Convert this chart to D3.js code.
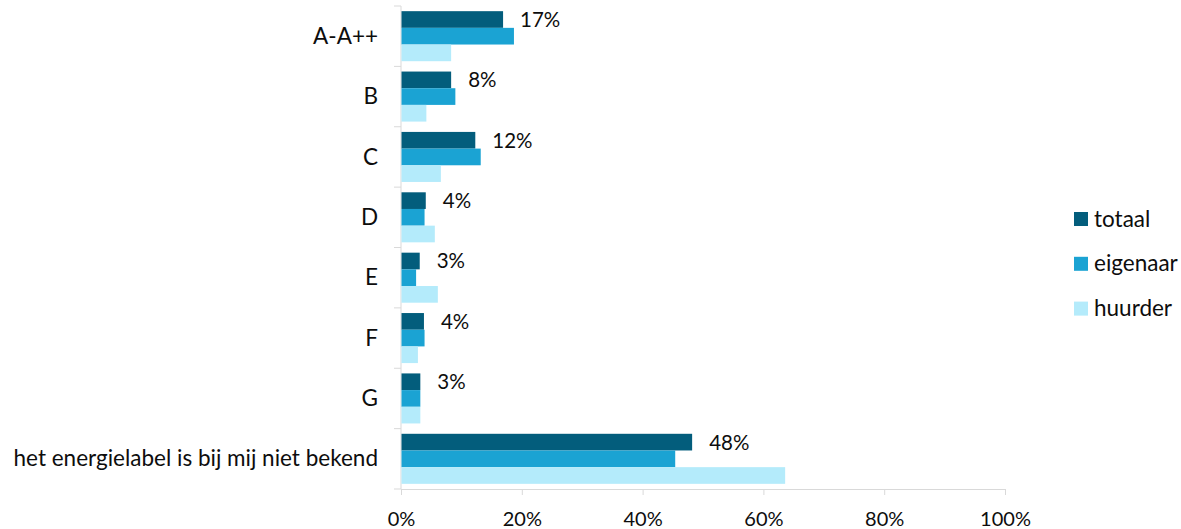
<!DOCTYPE html>
<html>
<head>
<meta charset="utf-8">
<script src="https://cdn.jsdelivr.net/npm/d3@7"></script>
<style>
  body { margin: 0; background: #fff; }
  svg text { font-family: Lato, "Open Sans", sans-serif; fill: #0d0d0d; }
</style>
</head>
<body>
<script>
'use strict';

// categories (energielabel) and series
const categories = ["A-A++", "B", "C", "D", "E", "F", "G", "het energielabel is bij mij niet bekend"];
const series = ["totaal", "eigenaar", "huurder"];

// values in percent
const totaal   = [16.9, 8.3, 12.3, 4.1, 3.1, 3.8, 3.2, 48.2];
const eigenaar = [18.7, 9.0, 13.2, 3.9, 2.5, 3.9, 3.2, 45.4];
const huurder  = [8.3, 4.2, 6.6, 5.6, 6.1, 2.8, 3.2, 63.6];

// rounded labels shown next to the totaal bars
const totaalLabels = ["17%", "8%", "12%", "4%", "3%", "4%", "3%", "48%"];

const xTicks = [0, 20, 40, 60, 80, 100];

const colors = {
  "totaal": "#035d7c",
  "eigenaar": "#1ba3d3",
  "huurder": "#b4ebfb"
};

let svg = d3.select('body')
  .append('svg')
  .attr('width', 1181)
  .attr('height', 529);

let values = { totaal: totaal, eigenaar: eigenaar, huurder: huurder };

// rows for the bars
let rows = categories.map((c, i) => ({
  cat: c,
  vals: series.map((s) => ({ key: s, value: values[s][i] })),
  label: totaalLabels[i]
}));

// scales
let x = d3.scaleLinear()
  .domain([0, 100])
  .range([401, 1005]);

let y = d3.scaleBand()
  .domain(categories)
  .range([6, 489]);

let ySub = d3.scaleBand()
  .domain(series)
  .range([0, y.bandwidth()])
  .paddingOuter(0.31);

// x axis
let xAxis = d3.axisBottom(x)
  .tickValues(xTicks)
  .tickFormat((d) => d + "%")
  .tickSize(6)
  .tickSizeOuter(0);

let gx = svg.append('g')
  .attr('transform', 'translate(0, 489)')
  .call(xAxis);
gx.select('.domain').attr('stroke', '#d9d9d9');
gx.selectAll('.tick line').attr('stroke', '#d9d9d9');
gx.selectAll('.tick text')
  .attr('y', 37)
  .attr('dy', 0)
  .style('font-size', '20px')
  .attr('fill', '#0d0d0d');

// y axis line with ticks at the category boundaries
svg.append('line')
  .attr('x1', x(0)).attr('x2', x(0))
  .attr('y1', y.range()[0]).attr('y2', y.range()[1])
  .attr('stroke', '#d9d9d9');

svg.selectAll('.ytick')
  .data(categories.concat(["end"]))
  .enter()
  .append('line')
    .attr('x1', x(0) - 7).attr('x2', x(0))
    .attr('y1', (d, i) => i < categories.length ? y(d) : y.range()[1])
    .attr('y2', (d, i) => i < categories.length ? y(d) : y.range()[1])
    .attr('stroke', '#d9d9d9');

// category labels
svg.selectAll('.catlabel')
  .data(categories)
  .enter()
  .append('text')
    .attr('x', 378)
    .attr('y', (d) => y(d) + y.bandwidth() / 2)
    .attr('dy', '0.34em')
    .attr('text-anchor', 'end')
    .style('font-size', '22.5px')
    .text((d) => d);

// bars
let groups = svg.selectAll('.grp')
  .data(rows)
  .enter()
  .append('g')
    .attr('transform', (d) => 'translate(0,' + y(d.cat) + ')');

groups.selectAll('rect')
  .data((d) => d.vals)
  .enter()
  .append('rect')
    .attr('x', x(0) + 0.5)
    .attr('y', (d) => ySub(d.key))
    .attr('width', (d) => x(d.value) - x(0) - 0.5)
    .attr('height', ySub.bandwidth())
    .attr('fill', (d) => colors[d.key]);

// data labels for totaal
groups.append('text')
  .attr('x', (d) => x(d.vals[0].value) + 17)
  .attr('y', ySub("totaal") + ySub.bandwidth() / 2)
  .attr('dy', '0.36em')
  .style('font-size', '20.5px')
  .text((d) => d.label);

// legend
let legend = svg.selectAll('.legend')
  .data(series)
  .enter()
  .append('g')
    .attr('transform', (d, i) => 'translate(1074,' + (219 + i * 44.8) + ')');

legend.append('rect')
  .attr('x', 0)
  .attr('y', -7)
  .attr('width', 14)
  .attr('height', 14)
  .attr('fill', (d) => colors[d]);

legend.append('text')
  .attr('x', 20)
  .attr('y', 0)
  .attr('dy', '0.34em')
  .style('font-size', '22.5px')
  .text((d) => d);
</script>
</body>
</html>
